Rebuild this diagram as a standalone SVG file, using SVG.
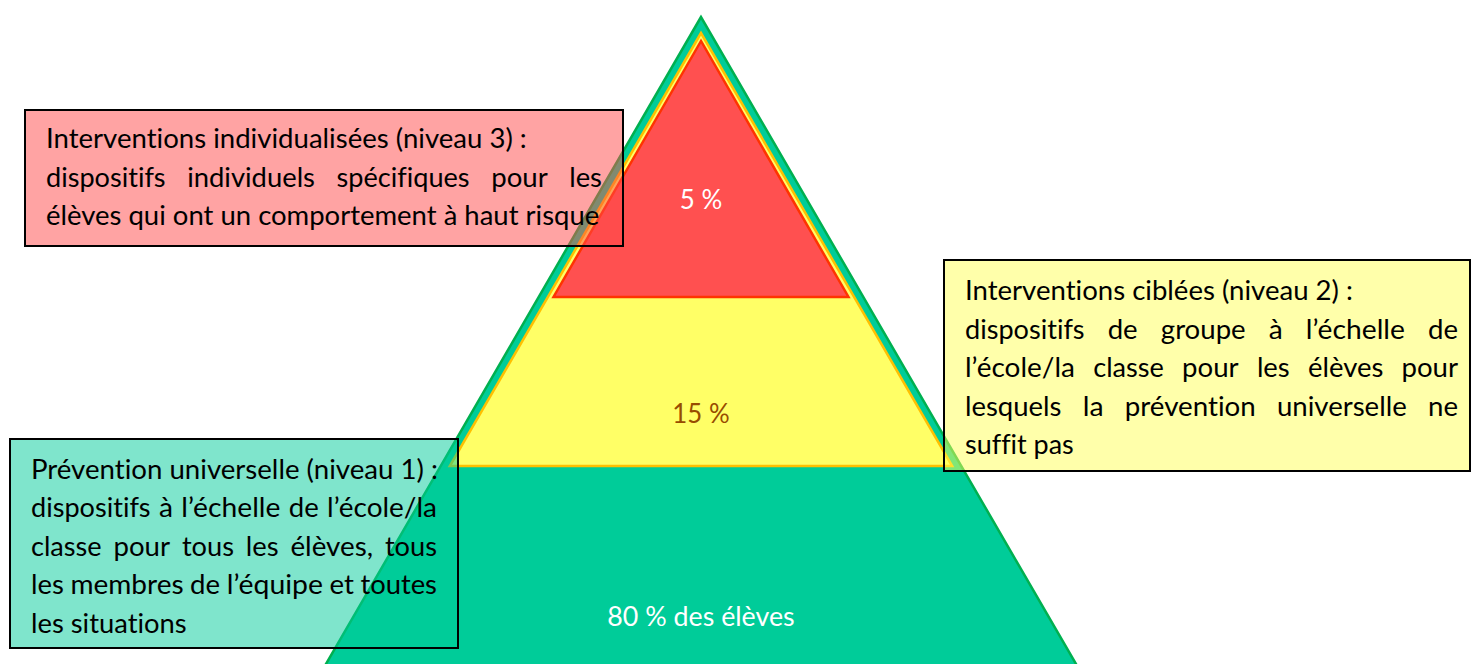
<svg xmlns="http://www.w3.org/2000/svg" width="1472" height="664" viewBox="0 0 1472 664">
  <style>
    .txt { font-family: "Lato", "Carlito", "Liberation Sans", sans-serif; font-size: 27px; fill: #000000; font-variant-ligatures: none; }
    .pct { font-family: "Lato", "Carlito", "Liberation Sans", sans-serif; font-size: 27px; text-anchor: middle; font-variant-ligatures: none; }
    .box { stroke: #000000; stroke-width: 2; }
  </style>

  <rect x="0" y="0" width="1472" height="664" fill="#ffffff"/>

  <!-- pyramid tiers -->
  <g id="tier-1">
    <polygon points="701,17 316.7,680 1085.3,680" fill="#00CC99" stroke="#00B050" stroke-width="2.5"/>
  </g>
  <g id="tier-2">
    <polygon points="701,33 449.8,466 952.2,466" fill="#FFFF66" stroke="#FFC000" stroke-width="2.5"/>
  </g>
  <g id="tier-3">
    <polygon points="701,41 553.5,297 848.5,297" fill="#FF5050" stroke="#FF3300" stroke-width="2.5"/>
  </g>

  <!-- tier labels -->
  <g id="tier-labels">
    <text class="pct" x="701" y="209" fill="#ffffff" textLength="42.5" lengthAdjust="spacingAndGlyphs">5 %</text>
    <text class="pct" x="701" y="423" fill="#974C00" textLength="57.3" lengthAdjust="spacingAndGlyphs">15 %</text>
    <text class="pct" x="701" y="626" fill="#ffffff" textLength="187.3" lengthAdjust="spacingAndGlyphs">80 % des élèves</text>
  </g>

  <!-- level 3 box -->
  <g id="box-level-3">
    <rect class="box" x="25" y="110" width="598" height="136" fill="rgba(255,71,71,0.5)"/>
    <text class="txt" x="46" y="148" textLength="480.7" lengthAdjust="spacingAndGlyphs">Interventions individualisées (niveau 3) :</text>
    <text class="txt" x="46" y="187" textLength="119.6" lengthAdjust="spacingAndGlyphs">dispositifs</text>
    <text class="txt" x="187.2" y="187" textLength="127.8" lengthAdjust="spacingAndGlyphs">individuels</text>
    <text class="txt" x="336.5" y="187" textLength="133.1" lengthAdjust="spacingAndGlyphs">spécifiques</text>
    <text class="txt" x="491.2" y="187" textLength="56.5" lengthAdjust="spacingAndGlyphs">pour</text>
    <text class="txt" x="569.2" y="187" textLength="32.8" lengthAdjust="spacingAndGlyphs">les</text>
    <text class="txt" x="46" y="225" textLength="553.3" lengthAdjust="spacingAndGlyphs">élèves qui ont un comportement à haut risque</text>
  </g>

  <!-- level 2 box -->
  <g id="box-level-2">
    <rect class="box" x="944" y="260" width="526" height="211" fill="rgba(255,255,85,0.5)"/>
    <text class="txt" x="965" y="300" textLength="387.9" lengthAdjust="spacingAndGlyphs">Interventions ciblées (niveau 2) :</text>
    <text class="txt" x="965" y="338.5" textLength="119.6" lengthAdjust="spacingAndGlyphs">dispositifs</text>
    <text class="txt" x="1107.7" y="338.5" textLength="30" lengthAdjust="spacingAndGlyphs">de</text>
    <text class="txt" x="1160.8" y="338.5" textLength="84.9" lengthAdjust="spacingAndGlyphs">groupe</text>
    <text class="txt" x="1268.7" y="338.5" textLength="14" lengthAdjust="spacingAndGlyphs">à</text>
    <text class="txt" x="1305.8" y="338.5" textLength="99.1" lengthAdjust="spacingAndGlyphs">l’échelle</text>
    <text class="txt" x="1428" y="338.5" textLength="30" lengthAdjust="spacingAndGlyphs">de</text>
    <text class="txt" x="965" y="377" textLength="109.9" lengthAdjust="spacingAndGlyphs">l’école/la</text>
    <text class="txt" x="1093.2" y="377" textLength="70.7" lengthAdjust="spacingAndGlyphs">classe</text>
    <text class="txt" x="1182.1" y="377" textLength="56.5" lengthAdjust="spacingAndGlyphs">pour</text>
    <text class="txt" x="1256.9" y="377" textLength="32.8" lengthAdjust="spacingAndGlyphs">les</text>
    <text class="txt" x="1308" y="377" textLength="75.3" lengthAdjust="spacingAndGlyphs">élèves</text>
    <text class="txt" x="1401.5" y="377" textLength="56.5" lengthAdjust="spacingAndGlyphs">pour</text>
    <text class="txt" x="965" y="415.5" textLength="96.4" lengthAdjust="spacingAndGlyphs">lesquels</text>
    <text class="txt" x="1082.7" y="415.5" textLength="20.8" lengthAdjust="spacingAndGlyphs">la</text>
    <text class="txt" x="1124.8" y="415.5" textLength="130.9" lengthAdjust="spacingAndGlyphs">prévention</text>
    <text class="txt" x="1277" y="415.5" textLength="129.7" lengthAdjust="spacingAndGlyphs">universelle</text>
    <text class="txt" x="1428" y="415.5" textLength="30" lengthAdjust="spacingAndGlyphs">ne</text>
    <text class="txt" x="965" y="454" textLength="108.8" lengthAdjust="spacingAndGlyphs">suffit pas</text>
  </g>

  <!-- level 1 box -->
  <g id="box-level-1">
    <rect class="box" x="10" y="439" width="448" height="209" fill="rgba(0,204,153,0.5)"/>
    <text class="txt" x="31" y="479" textLength="406.8" lengthAdjust="spacingAndGlyphs">Prévention universelle (niveau 1) :</text>
    <text class="txt" x="31" y="517" textLength="119.6" lengthAdjust="spacingAndGlyphs">dispositifs</text>
    <text class="txt" x="158.9" y="517" textLength="14" lengthAdjust="spacingAndGlyphs">à</text>
    <text class="txt" x="181.3" y="517" textLength="99.1" lengthAdjust="spacingAndGlyphs">l’échelle</text>
    <text class="txt" x="288.8" y="517" textLength="30" lengthAdjust="spacingAndGlyphs">de</text>
    <text class="txt" x="327.1" y="517" textLength="109.9" lengthAdjust="spacingAndGlyphs">l’école/la</text>
    <text class="txt" x="31" y="556" textLength="70.7" lengthAdjust="spacingAndGlyphs">classe</text>
    <text class="txt" x="113.5" y="556" textLength="56.5" lengthAdjust="spacingAndGlyphs">pour</text>
    <text class="txt" x="181.9" y="556" textLength="52.1" lengthAdjust="spacingAndGlyphs">tous</text>
    <text class="txt" x="245.8" y="556" textLength="32.8" lengthAdjust="spacingAndGlyphs">les</text>
    <text class="txt" x="290.4" y="556" textLength="82.6" lengthAdjust="spacingAndGlyphs">élèves,</text>
    <text class="txt" x="384.9" y="556" textLength="52.1" lengthAdjust="spacingAndGlyphs">tous</text>
    <text class="txt" x="31" y="594" textLength="32.8" lengthAdjust="spacingAndGlyphs">les</text>
    <text class="txt" x="70.4" y="594" textLength="113.2" lengthAdjust="spacingAndGlyphs">membres</text>
    <text class="txt" x="190.1" y="594" textLength="30" lengthAdjust="spacingAndGlyphs">de</text>
    <text class="txt" x="226.7" y="594" textLength="96.2" lengthAdjust="spacingAndGlyphs">l’équipe</text>
    <text class="txt" x="329.5" y="594" textLength="24.4" lengthAdjust="spacingAndGlyphs">et</text>
    <text class="txt" x="360.4" y="594" textLength="76.6" lengthAdjust="spacingAndGlyphs">toutes</text>
    <text class="txt" x="31" y="633" textLength="155.7" lengthAdjust="spacingAndGlyphs">les situations</text>
  </g>
</svg>
